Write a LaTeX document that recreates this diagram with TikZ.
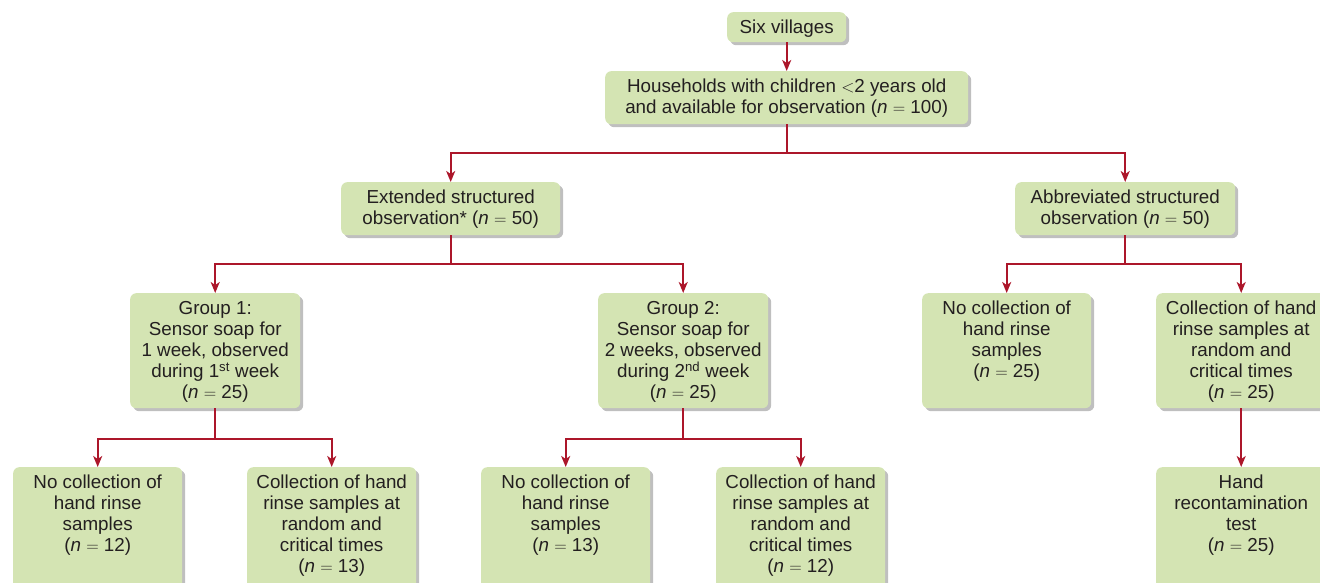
\documentclass[tikz,border=0pt]{standalone}
\usepackage{fontspec}
\setmainfont{Liberation Sans}
\usetikzlibrary{arrows.meta,shadows}
\definecolor{boxgreen}{RGB}{212,228,179}
\definecolor{linered}{RGB}{172,22,42}
\definecolor{txt}{RGB}{35,31,32}
\newcommand{\eqn}[1]{(\textit{n} $=$ #1)}
\tikzset{
 box/.style={fill=boxgreen, draw=none, rounded corners=6pt, anchor=north west, inner sep=0pt,
   drop shadow={shadow xshift=3pt, shadow yshift=-3pt, opacity=0.25, fill=black}},
 lbl/.style={anchor=north, inner sep=0pt, align=center, text=txt, font=\fontsize{18.8}{21}\selectfont, yshift=-8pt},
 conn/.style={draw=linered, line width=1.6pt, -{Stealth[length=11pt,width=9pt,inset=3pt]}},
 bigbox/.style={box, minimum width=169pt, minimum height=115pt},
 lowbox/.style={box, minimum width=169pt, minimum height=130pt},
}
\begin{document}
\begin{tikzpicture}[x=1pt,y=-1pt]
\useasboundingbox (0,0) rectangle (1320,582);
\clip (0,0) rectangle (1320,582);
% boxes
\node[box, minimum width=119pt, minimum height=30pt] (sv) at (727,12) {};
\node[lbl] at (sv.north) {Six villages};
\node[box, minimum width=363pt, minimum height=53pt] (hh) at (605,71) {};
\node[lbl] at (hh.north) {Households with children $<$2 years old\\and available for observation \eqn{100}};
\node[box, minimum width=219pt, minimum height=53pt] (ext) at (341,182) {};
\node[lbl] at (ext.north) {Extended structured\\observation* \eqn{50}};
\node[box, minimum width=220pt, minimum height=53pt] (abb) at (1015,182) {};
\node[lbl] at (abb.north) {Abbreviated structured\\observation \eqn{50}};
\node[bigbox, minimum width=170pt] (g1) at (130,293) {};
\node[lbl] at (g1.north) {Group 1:\\Sensor soap for\\1 week, observed\\during 1\textsuperscript{st} week\\\eqn{25}};
\node[bigbox, minimum width=170pt] (g2) at (598,293) {};
\node[lbl] at (g2.north) {Group 2:\\Sensor soap for\\2 weeks, observed\\during 2\textsuperscript{nd} week\\\eqn{25}};
\node[bigbox] (nr) at (922,293) {};
\node[lbl] at (nr.north) {No collection of\\hand rinse\\samples\\\eqn{25}};
\node[bigbox, minimum width=170pt] (cr) at (1156,293) {};
\node[lbl] at (cr.north) {Collection of hand\\rinse samples at\\random and\\critical times\\\eqn{25}};
\node[lowbox] (n1) at (13,467) {};
\node[lbl] at (n1.north) {No collection of\\hand rinse\\samples\\\eqn{12}};
\node[lowbox] (c1) at (247,467) {};
\node[lbl] at (c1.north) {Collection of hand\\rinse samples at\\random and\\critical times\\\eqn{13}};
\node[lowbox] (n2) at (481,467) {};
\node[lbl] at (n2.north) {No collection of\\hand rinse\\samples\\\eqn{13}};
\node[lowbox] (c2) at (716,467) {};
\node[lbl] at (c2.north) {Collection of hand\\rinse samples at\\random and\\critical times\\\eqn{12}};
\node[lowbox, minimum width=170pt] (hr) at (1156,467) {};
\node[lbl] at (hr.north) {Hand\\recontamination\\test\\\eqn{25}};
% junction levels
\coordinate (y1) at (0,153);
\coordinate (y2) at (0,264);
\coordinate (y3) at (0,439);
\coordinate (j1) at (hh.south |- y1);
\coordinate (j2) at (ext.south |- y2);
\coordinate (j3) at (abb.south |- y2);
\coordinate (j4) at (g1.south |- y3);
\coordinate (j5) at (g2.south |- y3);
% connectors
\draw[conn] (sv.south) -- (hh.north);
\draw[conn] (hh.south) -- (j1) -| (ext.north);
\draw[conn] (j1) -| (abb.north);
\draw[conn] (ext.south) -- (j2) -| (g1.north);
\draw[conn] (j2) -| (g2.north);
\draw[conn] (abb.south) -- (j3) -| (nr.north);
\draw[conn] (j3) -| (cr.north);
\draw[conn] (g1.south) -- (j4) -| (n1.north);
\draw[conn] (j4) -| (c1.north);
\draw[conn] (g2.south) -- (j5) -| (n2.north);
\draw[conn] (j5) -| (c2.north);
\draw[conn] (cr.south) -- (hr.north);
\end{tikzpicture}
\end{document}
